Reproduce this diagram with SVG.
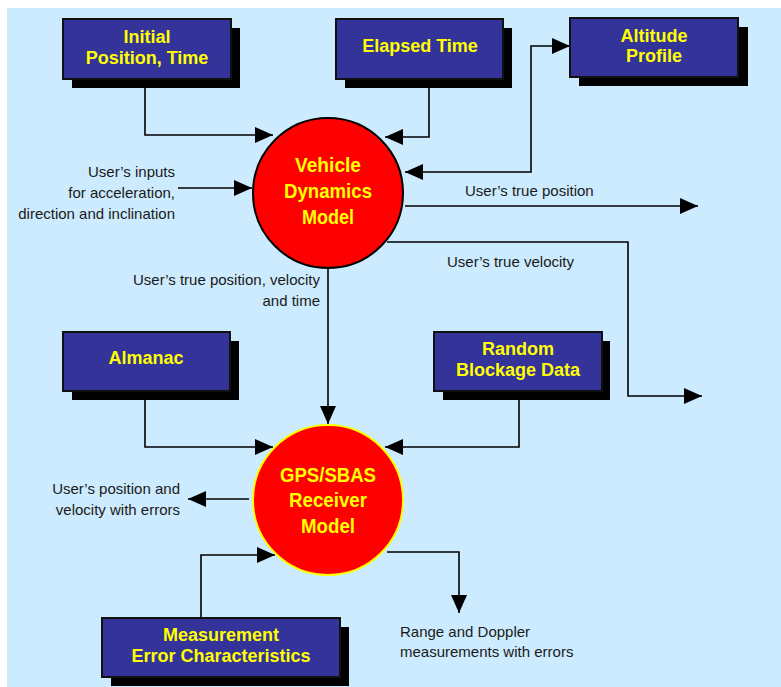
<svg xmlns="http://www.w3.org/2000/svg" width="781" height="687" viewBox="0 0 781 687">
<style>
.box{fill:#333399;stroke:#111;stroke-width:2}
.sh{fill:#000}
.bt{font-family:"Liberation Sans",Arial,sans-serif;font-weight:bold;font-size:18px;fill:#ffff00;text-anchor:middle}
.ct{font-family:"Liberation Sans",Arial,sans-serif;font-weight:bold;font-size:21px;fill:#ffff00;text-anchor:middle}
.lb{font-family:"Liberation Sans",Arial,sans-serif;font-size:15px;fill:#1a1a1a}
.r{text-anchor:end}
.ln{fill:none;stroke:#000;stroke-width:1.6}
</style>
<defs>
<marker id="ah" viewBox="0 0 18 16" refX="18" refY="8" markerWidth="18" markerHeight="16" markerUnits="userSpaceOnUse" orient="auto-start-reverse">
<path d="M0,0 L18,8 L0,16 Z" fill="#000"/>
</marker>
</defs>
<rect x="7" y="8" width="774" height="679" fill="#cdebfe"/>

<g id="connectors">
<path class="ln" d="M145,79 V135 H273" marker-end="url(#ah)"/>
<path class="ln" d="M429,79 V137 H385" marker-end="url(#ah)"/>
<path class="ln" d="M405,172 H531 V46 H570" marker-start="url(#ah)" marker-end="url(#ah)"/>
<path class="ln" d="M405,206 H698" marker-end="url(#ah)"/>
<path class="ln" d="M387,242 H628 V396 H702" marker-end="url(#ah)"/>
<path class="ln" d="M328,268 V424" marker-end="url(#ah)"/>
<path class="ln" d="M178,188 H252" marker-end="url(#ah)"/>
<path class="ln" d="M145,400 V447 H273" marker-end="url(#ah)"/>
<path class="ln" d="M519,400 V447 H385" marker-end="url(#ah)"/>
<path class="ln" d="M249,499 H188" marker-end="url(#ah)"/>
<path class="ln" d="M201,618 V555 H275" marker-end="url(#ah)"/>
<path class="ln" d="M387,552 H459 V613" marker-end="url(#ah)"/>
</g>

<g id="initial-position-time">
<rect class="sh" x="72" y="28" width="168" height="60"/>
<rect class="box" x="63" y="19" width="168" height="60"/>
<text class="bt" x="147" y="43">Initial</text>
<text class="bt" x="147" y="64">Position, Time</text>
</g>
<g id="elapsed-time">
<rect class="sh" x="345" y="28" width="167" height="60"/>
<rect class="box" x="336" y="19" width="167" height="60"/>
<text class="bt" x="420" y="52">Elapsed Time</text>
</g>
<g id="altitude-profile">
<rect class="sh" x="579" y="27" width="169" height="59"/>
<rect class="box" x="570" y="18" width="168" height="59"/>
<text class="bt" x="654" y="42">Altitude</text>
<text class="bt" x="654" y="62">Profile</text>
</g>
<g id="almanac">
<rect class="sh" x="72" y="341" width="167" height="59"/>
<rect class="box" x="63" y="332" width="167" height="59"/>
<text class="bt" x="146" y="364">Almanac</text>
</g>
<g id="random-blockage-data">
<rect class="sh" x="443" y="341" width="167" height="59"/>
<rect class="box" x="434" y="332" width="168" height="59"/>
<text class="bt" x="518" y="355">Random</text>
<text class="bt" x="518" y="376">Blockage Data</text>
</g>
<g id="measurement-error-characteristics">
<rect class="sh" x="111" y="627" width="238" height="59"/>
<rect class="box" x="102" y="618" width="238" height="59"/>
<text class="bt" x="221" y="641">Measurement</text>
<text class="bt" x="221" y="662">Error Characteristics</text>
</g>

<g id="vehicle-dynamics-model">
<circle cx="328" cy="193" r="75" fill="#ff0000" stroke="#000" stroke-width="2"/>
<text class="ct" x="328" y="172" textLength="66" lengthAdjust="spacingAndGlyphs">Vehicle</text>
<text class="ct" x="328" y="198" textLength="88" lengthAdjust="spacingAndGlyphs">Dynamics</text>
<text class="ct" x="328" y="224" textLength="52" lengthAdjust="spacingAndGlyphs">Model</text>
</g>
<g id="gps-sbas-receiver-model">
<circle cx="328" cy="500" r="75" fill="#ff0000" stroke="#ffff00" stroke-width="2"/>
<text class="ct" x="328" y="482" textLength="96" lengthAdjust="spacingAndGlyphs">GPS/SBAS</text>
<text class="ct" x="328" y="507" textLength="78" lengthAdjust="spacingAndGlyphs">Receiver</text>
<text class="ct" x="328" y="533" textLength="54" lengthAdjust="spacingAndGlyphs">Model</text>
</g>

<g id="labels">
<text class="lb r" x="175" y="177">User’s inputs</text>
<text class="lb r" x="175" y="198">for acceleration,</text>
<text class="lb r" x="175" y="219">direction and inclination</text>
<text class="lb" x="465" y="196">User’s true position</text>
<text class="lb" x="447" y="267">User’s true velocity</text>
<text class="lb r" x="320" y="285">User’s true position, velocity</text>
<text class="lb r" x="320" y="306">and time</text>
<text class="lb r" x="180" y="494">User’s position and</text>
<text class="lb r" x="180" y="515">velocity with errors</text>
<text class="lb" x="400" y="637">Range and Doppler</text>
<text class="lb" x="400" y="657">measurements with errors</text>
</g>
</svg>
